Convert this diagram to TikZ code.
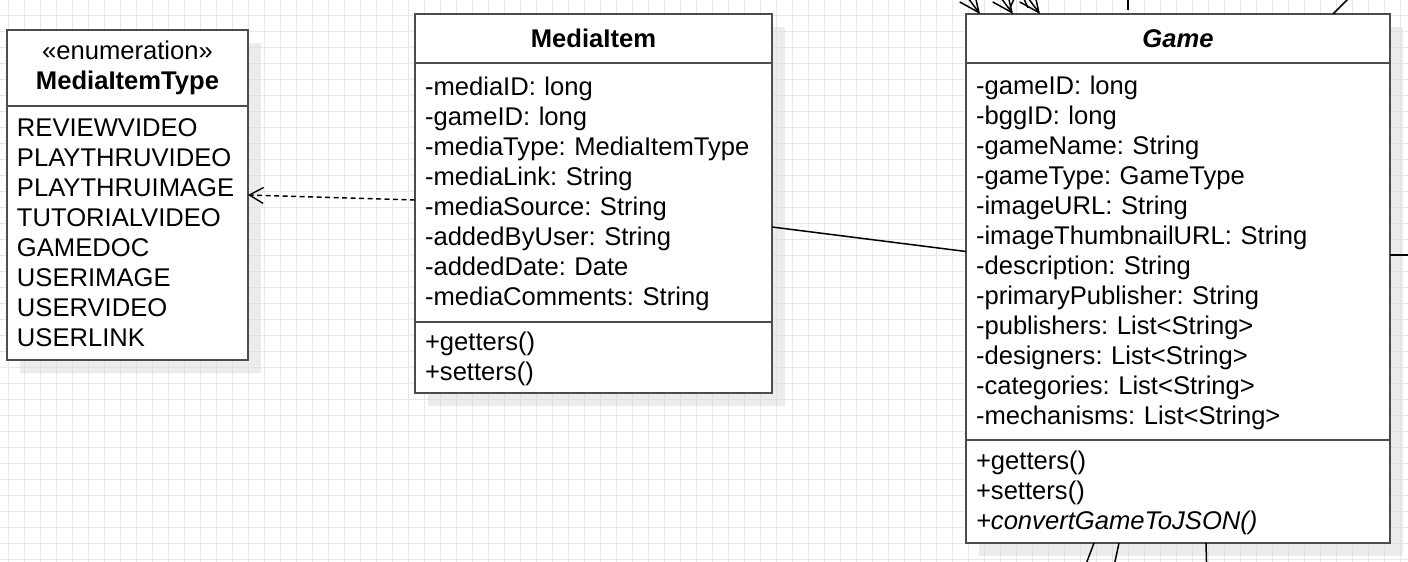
\documentclass[tikz,border=0pt]{standalone}
\usepackage{fontspec}
\setmainfont{Liberation Sans}
\usepackage{tikz}
\usetikzlibrary{positioning}
\usetikzlibrary{arrows.meta}
\usetikzlibrary{shadows}
\definecolor{umlline}{gray}{.3}
\definecolor{gridline}{gray}{.91}
\definecolor{umlshadow}{gray}{.86}
\newcommand{\umlstrut}{\rule[-3.4pt]{0pt}{15pt}}
\newcommand{\textenum}{110.5pt}
\newcommand{\textmedia}{168.5pt}
\newcommand{\textgame}{202pt}
\tikzset{
    common/.style={draw=umlline, line width=1.1pt, fill=white, rectangle, outer sep=0pt,
        inner xsep=5pt, inner ysep=0pt, font=\fontsize{12.8}{15}\selectfont\frenchspacing,
        drop shadow={shadow xshift=6.5pt, shadow yshift=-6.5pt, fill=umlshadow, opacity=.5}},
    head/.style={common, align=center},
    compart/.style={common, align=left, execute at begin node=\umlstrut, execute at end node=\umlstrut},
    dep/.style={line width=.7pt, dash pattern=on 2.5pt off 1.75pt, -{Straight Barb[length=7pt, width=8pt]}},
    assoc/.style={line width=.75pt},
    nav/.style={assoc, -{Straight Barb[length=10pt, width=9pt]}}
}

\begin{document}
\begin{tikzpicture}
    \path[use as bounding box, fill=white] (0,0) rectangle (704pt,-281pt);
    \clip (0,0) rectangle (704pt,-281pt);
    \draw[gridline, line width=.5pt, step=8pt, xshift=4pt, yshift=.35pt] (-8pt,8pt) grid (712pt,-290pt);

    % enumeration
    \node[head, text width=\textenum, minimum height=38pt, anchor=north west] (enum-head) at (3.5pt,-15pt)
        {«enumeration»\\\textbf{MediaItemType}};
    \node[compart, text width=\textenum, minimum height=127pt, below=0pt of enum-head] (enum-items)
        {REVIEWVIDEO\\PLAYTHRUVIDEO\\PLAYTHRUIMAGE\\TUTORIALVIDEO\\GAMEDOC\\USERIMAGE\\USERVIDEO\\USERLINK};

    % MediaItem
    \node[head, text width=\textmedia, minimum height=24.5pt, anchor=north west] (media-head) at (207.5pt,-7pt)
        {\textbf{MediaItem}};
    \node[compart, text width=\textmedia, minimum height=129.5pt, below=0pt of media-head] (media-attrs)
        {-mediaID: long\\-gameID: long\\-mediaType: MediaItemType\\-mediaLink: String\\-mediaSource: String\\-addedByUser: String\\-addedDate: Date\\-mediaComments: String};
    \node[compart, text width=\textmedia, minimum height=35.5pt, below=0pt of media-attrs] (media-ops)
        {+getters()\\+setters()};

    % Game
    \node[head, text width=\textgame, minimum height=24.5pt, anchor=north west] (game-head) at (483pt,-7pt)
        {\textbf{\textit{Game}}};
    \node[compart, text width=\textgame, minimum height=188.5pt, below=0pt of game-head] (game-attrs)
        {-gameID: long\\-bggID: long\\-gameName: String\\-gameType: GameType\\-imageURL: String\\-imageThumbnailURL: String\\-description: String\\-primaryPublisher: String\\-publishers: List<String>\\-designers: List<String>\\-categories: List<String>\\-mechanisms: List<String>};
    \node[compart, text width=\textgame, minimum height=51.5pt, below=0pt of game-attrs] (game-ops)
        {+getters()\\+setters()\\\textit{+convertGameToJSON()}};

    % loose ends of connectors running off the page
    \coordinate (top-1) at (479.5pt,7pt);
    \coordinate (top-2) at (496pt,7pt);
    \coordinate (top-3) at (509.5pt,7pt);
    \coordinate (top-4) at (564pt,3pt);
    \coordinate (top-5) at (680.5pt,7pt);
    \coordinate (right-1) at (712pt,-127.5pt);
    \coordinate (bottom-1) at (540pt,-290pt);
    \coordinate (bottom-2) at (555.5pt,-290pt);
    \coordinate (bottom-3) at (603.5pt,-290pt);

    \draw[dep] ([yshift=-3.75pt]media-attrs.west) -- ([yshift=19pt]enum-items.east);
    \draw[assoc] ([yshift=-17.25pt]media-attrs.east) -- (game-attrs.west);

    \draw[nav]
        (top-1) edge ([xshift=7pt]game-head.north west)
        (top-2) edge ([xshift=23.5pt]game-head.north west)
        (top-3) edge ([xshift=37pt]game-head.north west);
    \draw[assoc, dash pattern=on 8pt off 4pt] (top-4) -- ([xshift=81pt]game-head.north west);
    \draw[assoc]
        (top-5) edge ([xshift=183.5pt]game-head.north west)
        ([yshift=-1.75pt]game-attrs.east) edge (right-1)
        ([xshift=64pt]game-ops.south west) edge (bottom-1)
        ([xshift=76.5pt]game-ops.south west) edge (bottom-2)
        ([xshift=120pt]game-ops.south west) edge (bottom-3);
\end{tikzpicture}
\end{document}
